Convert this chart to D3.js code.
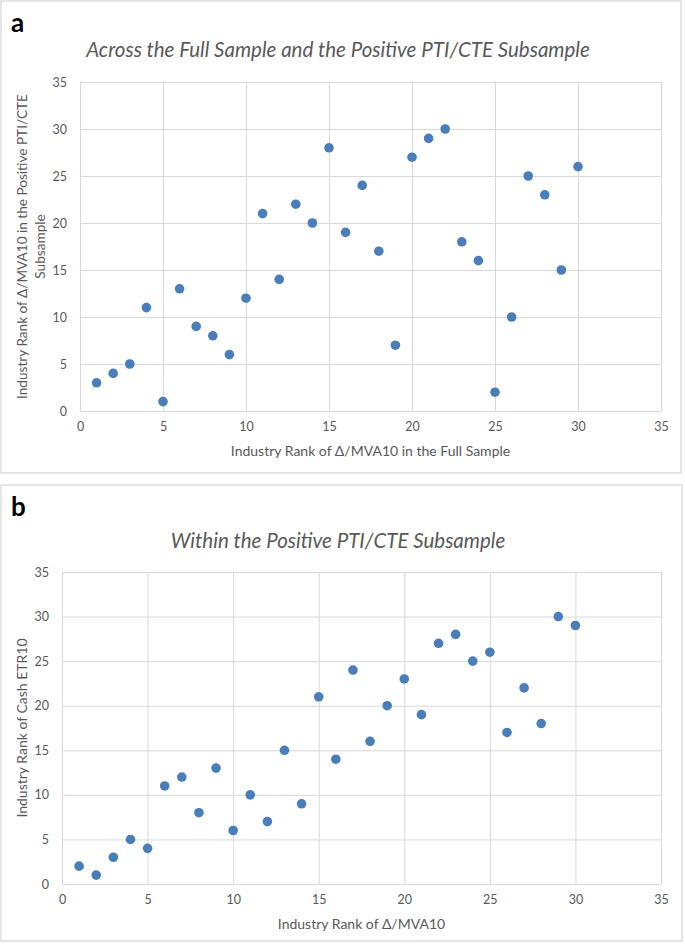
<!DOCTYPE html>
<html>
<head>
<meta charset="utf-8">
<script src="https://cdn.jsdelivr.net/npm/d3@7"></script>
<style>
  body { margin: 0; background: #fff; }
  svg text { font-family: Lato, "Open Sans", sans-serif; }
</style>
</head>
<body>
<script>
// panel a: rank in full sample vs rank in positive PTI/CTE subsample
const rankFullA = [1,2,3,4,5,6,7,8,9,10,11,12,13,14,15,16,17,18,19,20,21,22,23,24,25,26,27,28,29,30];
const rankPosA  = [3,4,5,11,1,13,9,8,6,12,21,14,22,20,28,19,24,17,7,27,29,30,18,16,2,10,25,23,15,26];
// panel b: rank of delta/MVA10 vs rank of cash ETR10
const rankMvaB  = [1,2,3,4,5,6,7,8,9,10,11,12,13,14,15,16,17,18,19,20,21,22,23,24,25,26,27,28,29,30];
const rankEtrB  = [2,1,3,5,4,11,12,8,13,6,10,7,15,9,21,14,24,16,20,23,19,27,28,25,26,17,22,18,30,29];
const tickVals = [0,5,10,15,20,25,30,35];

const w = 685, h = 944;
const grid = "#d9d9d9", txt = "#595959", dot = "#4a7ebb";

const svg = d3.select("body").append("svg")
    .attr("width", w)
    .attr("height", h);

function panel(o) {
    const g = svg.append("g");
    g.append("rect")
        .attr("x", o.box[0]).attr("y", o.box[1])
        .attr("width", o.box[2]).attr("height", o.box[3])
        .attr("fill", "#fff").attr("stroke", "#dedede").attr("stroke-width", 1.5);

    g.append("text").text(o.letter)
        .attr("x", 11).attr("y", o.box[1] + 31)
        .attr("font-family", "Liberation Sans, Arial, sans-serif")
        .attr("font-weight", "bold").attr("font-size", 26).attr("fill", "#000");

    g.append("text").text(o.title)
        .attr("x", 338).attr("y", o.titleY)
        .attr("text-anchor", "middle")
        .attr("font-style", "italic").attr("font-size", 20.5).attr("fill", txt);

    const x = d3.scaleLinear().domain([0, 35]).range([o.left, 661]);
    const y = d3.scaleLinear().domain([0, 35]).range([o.bottom, o.top]);

    // gridlines
    g.append("g").attr("transform", "translate(0," + o.bottom + ")")
        .call(d3.axisBottom(x).tickValues(tickVals).tickSize(o.top - o.bottom).tickFormat(""))
        .call(a => a.select(".domain").remove())
        .selectAll("line").attr("stroke", grid);
    g.append("g").attr("transform", "translate(" + o.left + ",0)")
        .call(d3.axisLeft(y).tickValues(tickVals).tickSize(o.left - 661).tickFormat(""))
        .call(a => a.select(".domain").remove())
        .selectAll("line").attr("stroke", grid);

    // tick labels
    const xa = g.append("g").attr("transform", "translate(0," + o.bottom + ")")
        .call(d3.axisBottom(x).tickValues(tickVals).tickSize(0).tickPadding(11));
    xa.select(".domain").remove();
    xa.selectAll("text").attr("fill", txt).attr("font-size", 12.5).attr("font-family", "Lato, sans-serif");

    const ya = g.append("g").attr("transform", "translate(" + o.left + ",0)")
        .call(d3.axisLeft(y).tickValues(tickVals).tickSize(0).tickPadding(13));
    ya.select(".domain").remove();
    ya.selectAll("text").attr("fill", txt).attr("font-size", 12.5).attr("font-family", "Lato, sans-serif");

    g.selectAll("circle.pt")
        .data(o.xs)
        .enter()
        .append("circle")
        .attr("class", "pt")
        .attr("cx", d => x(d))
        .attr("cy", (d, i) => y(o.ys[i]))
        .attr("r", 4.8)
        .attr("fill", dot);

    g.append("text").text(o.xTitle)
        .attr("x", (o.left + 661) / 2).attr("y", o.bottom + 45)
        .attr("text-anchor", "middle").attr("font-size", 14).attr("fill", txt);

    const yt = g.append("text")
        .attr("transform", "translate(" + o.yTitleX + "," + (o.top + o.bottom) / 2 + ")rotate(-90)")
        .attr("text-anchor", "middle").attr("font-size", o.yTitleSize).attr("fill", txt);
    o.yTitle.forEach((line, i) => {
        yt.append("tspan").text(line).attr("x", 0).attr("dy", i === 0 ? 0 : 18);
    });
}

panel({
    letter: "a", box: [1, 1, 680, 472], titleY: 57,
    title: "Across the Full Sample and the Positive PTI/CTE Subsample",
    left: 80, top: 82, bottom: 411,
    xs: rankFullA, ys: rankPosA,
    xTitle: "Industry Rank of \u0394/MVA10 in the Full Sample",
    yTitle: ["Industry Rank of \u0394/MVA10 in the Positive PTI/CTE", "Subsample"], yTitleX: 27, yTitleSize: 13.6
});

panel({
    letter: "b", box: [1, 485, 681, 456], titleY: 548,
    title: "Within the Positive PTI/CTE Subsample",
    left: 62, top: 572, bottom: 884,
    xs: rankMvaB, ys: rankEtrB,
    xTitle: "Industry Rank of \u0394/MVA10",
    yTitle: ["Industry Rank of Cash ETR10"], yTitleX: 27, yTitleSize: 14
});
</script>
</body>
</html>
